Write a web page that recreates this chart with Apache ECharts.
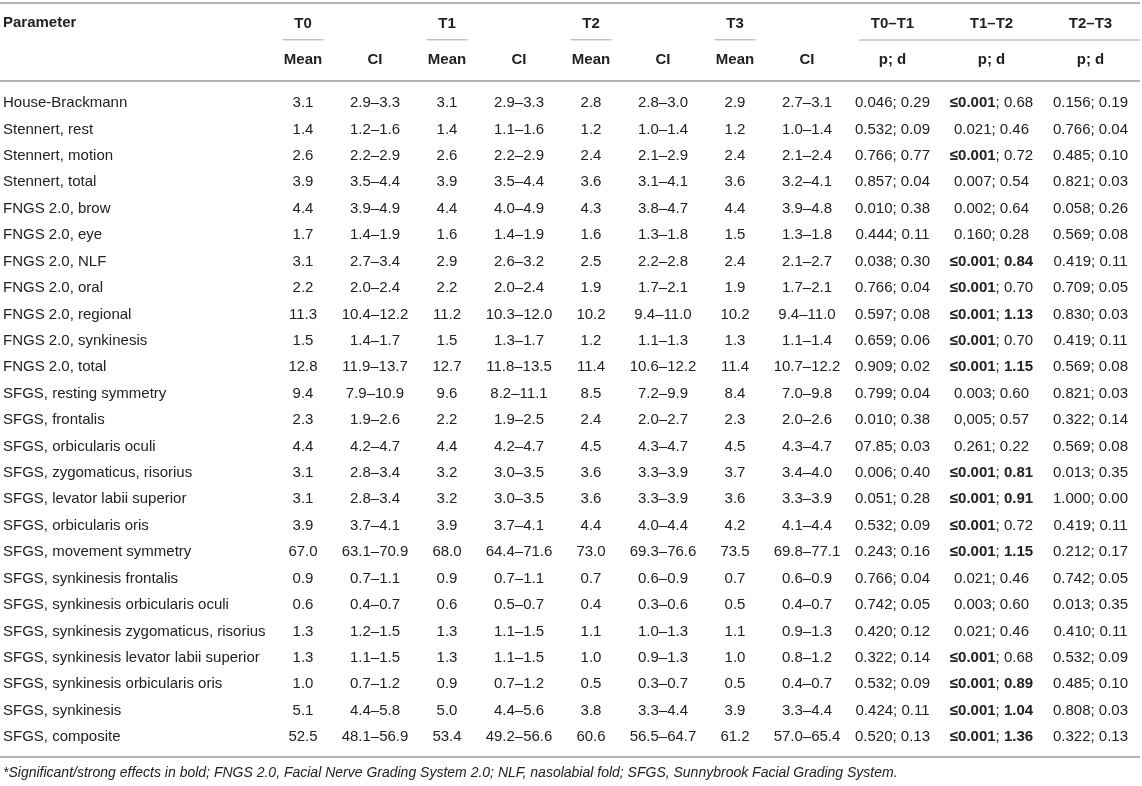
<!DOCTYPE html>
<html>
<head>
<meta charset="utf-8">
<script src="https://cdn.jsdelivr.net/npm/echarts@6/dist/echarts.min.js"></script>
<style>
    html, body { margin: 0; padding: 0; background: #fff; }
    #main { width: 1142px; height: 786px; }
</style>
</head>
<body>
<div id="main"></div>
<script>
// table content, one array per column
const params = [
    'House-Brackmann', 'Stennert, rest', 'Stennert, motion', 'Stennert, total',
    'FNGS 2.0, brow', 'FNGS 2.0, eye', 'FNGS 2.0, NLF', 'FNGS 2.0, oral',
    'FNGS 2.0, regional', 'FNGS 2.0, synkinesis', 'FNGS 2.0, total',
    'SFGS, resting symmetry', 'SFGS, frontalis', 'SFGS, orbicularis oculi',
    'SFGS, zygomaticus, risorius', 'SFGS, levator labii superior', 'SFGS, orbicularis oris',
    'SFGS, movement symmetry', 'SFGS, synkinesis frontalis', 'SFGS, synkinesis orbicularis oculi',
    'SFGS, synkinesis zygomaticus, risorius', 'SFGS, synkinesis levator labii superior',
    'SFGS, synkinesis orbicularis oris', 'SFGS, synkinesis', 'SFGS, composite'
];

const t0Mean = [3.1, 1.4, 2.6, 3.9, 4.4, 1.7, 3.1, 2.2, 11.3, 1.5, 12.8, 9.4, 2.3, 4.4, 3.1, 3.1, 3.9, 67.0, 0.9, 0.6, 1.3, 1.3, 1.0, 5.1, 52.5];
const t0CI = ['2.9–3.3', '1.2–1.6', '2.2–2.9', '3.5–4.4', '3.9–4.9', '1.4–1.9', '2.7–3.4', '2.0–2.4', '10.4–12.2', '1.4–1.7', '11.9–13.7', '7.9–10.9', '1.9–2.6', '4.2–4.7', '2.8–3.4', '2.8–3.4', '3.7–4.1', '63.1–70.9', '0.7–1.1', '0.4–0.7', '1.2–1.5', '1.1–1.5', '0.7–1.2', '4.4–5.8', '48.1–56.9'];
const t1Mean = [3.1, 1.4, 2.6, 3.9, 4.4, 1.6, 2.9, 2.2, 11.2, 1.5, 12.7, 9.6, 2.2, 4.4, 3.2, 3.2, 3.9, 68.0, 0.9, 0.6, 1.3, 1.3, 0.9, 5.0, 53.4];
const t1CI = ['2.9–3.3', '1.1–1.6', '2.2–2.9', '3.5–4.4', '4.0–4.9', '1.4–1.9', '2.6–3.2', '2.0–2.4', '10.3–12.0', '1.3–1.7', '11.8–13.5', '8.2–11.1', '1.9–2.5', '4.2–4.7', '3.0–3.5', '3.0–3.5', '3.7–4.1', '64.4–71.6', '0.7–1.1', '0.5–0.7', '1.1–1.5', '1.1–1.5', '0.7–1.2', '4.4–5.6', '49.2–56.6'];
const t2Mean = [2.8, 1.2, 2.4, 3.6, 4.3, 1.6, 2.5, 1.9, 10.2, 1.2, 11.4, 8.5, 2.4, 4.5, 3.6, 3.6, 4.4, 73.0, 0.7, 0.4, 1.1, 1.0, 0.5, 3.8, 60.6];
const t2CI = ['2.8–3.0', '1.0–1.4', '2.1–2.9', '3.1–4.1', '3.8–4.7', '1.3–1.8', '2.2–2.8', '1.7–2.1', '9.4–11.0', '1.1–1.3', '10.6–12.2', '7.2–9.9', '2.0–2.7', '4.3–4.7', '3.3–3.9', '3.3–3.9', '4.0–4.4', '69.3–76.6', '0.6–0.9', '0.3–0.6', '1.0–1.3', '0.9–1.3', '0.3–0.7', '3.3–4.4', '56.5–64.7'];
const t3Mean = [2.9, 1.2, 2.4, 3.6, 4.4, 1.5, 2.4, 1.9, 10.2, 1.3, 11.4, 8.4, 2.3, 4.5, 3.7, 3.6, 4.2, 73.5, 0.7, 0.5, 1.1, 1.0, 0.5, 3.9, 61.2];
const t3CI = ['2.7–3.1', '1.0–1.4', '2.1–2.4', '3.2–4.1', '3.9–4.8', '1.3–1.8', '2.1–2.7', '1.7–2.1', '9.4–11.0', '1.1–1.4', '10.7–12.2', '7.0–9.8', '2.0–2.6', '4.3–4.7', '3.4–4.0', '3.3–3.9', '4.1–4.4', '69.8–77.1', '0.6–0.9', '0.4–0.7', '0.9–1.3', '0.8–1.2', '0.4–0.7', '3.3–4.4', '57.0–65.4'];

// p; d  (**...** = bold)
const t01 = ['0.046; 0.29', '0.532; 0.09', '0.766; 0.77', '0.857; 0.04', '0.010; 0.38', '0.444; 0.11', '0.038; 0.30', '0.766; 0.04', '0.597; 0.08', '0.659; 0.06', '0.909; 0.02', '0.799; 0.04', '0.010; 0.38', '07.85; 0.03', '0.006; 0.40', '0.051; 0.28', '0.532; 0.09', '0.243; 0.16', '0.766; 0.04', '0.742; 0.05', '0.420; 0.12', '0.322; 0.14', '0.532; 0.09', '0.424; 0.11', '0.520; 0.13'];
const t12 = ['**≤0.001**; 0.68', '0.021; 0.46', '**≤0.001**; 0.72', '0.007; 0.54', '0.002; 0.64', '0.160; 0.28', '**≤0.001**; **0.84**', '**≤0.001**; 0.70', '**≤0.001**; **1.13**', '**≤0.001**; 0.70', '**≤0.001**; **1.15**', '0.003; 0.60', '0,005; 0.57', '0.261; 0.22', '**≤0.001**; **0.81**', '**≤0.001**; **0.91**', '**≤0.001**; 0.72', '**≤0.001**; **1.15**', '0.021; 0.46', '0.003; 0.60', '0.021; 0.46', '**≤0.001**; 0.68', '**≤0.001**; **0.89**', '**≤0.001**; **1.04**', '**≤0.001**; **1.36**'];
const t23 = ['0.156; 0.19', '0.766; 0.04', '0.485; 0.10', '0.821; 0.03', '0.058; 0.26', '0.569; 0.08', '0.419; 0.11', '0.709; 0.05', '0.830; 0.03', '0.419; 0.11', '0.569; 0.08', '0.821; 0.03', '0.322; 0.14', '0.569; 0.08', '0.013; 0.35', '1.000; 0.00', '0.419; 0.11', '0.212; 0.17', '0.742; 0.05', '0.013; 0.35', '0.410; 0.11', '0.532; 0.09', '0.485; 0.10', '0.808; 0.03', '0.322; 0.13'];

const timeCols = ['T0', 'T1', 'T2', 'T3'];
const subCols = ['Mean', 'CI', 'Mean', 'CI', 'Mean', 'CI', 'Mean', 'CI'];
const diffCols = ['T0–T1', 'T1–T2', 'T2–T3'];
const diffSub = ['p; d', 'p; d', 'p; d'];
const firstHead = 'Parameter';
const footnote = '*Significant/strong effects in bold; FNGS 2.0, Facial Nerve Grading System 2.0; NLF, nasolabial fold; SFGS, Sunnybrook Facial Grading System.';

const FONT = '"Liberation Sans", Arial, Helvetica, sans-serif';
const TEXT = '#222';
const RULE = '#b4b4b4';
const SIZE = 15;

const fmt = v => v.toFixed(1);
const toRich = s => s.replace(/\*\*(.+?)\*\*/g, '{b|$1}');

// cells of the left block (8 columns) and right block (3 columns)
const leftCols = [t0Mean.map(fmt), t0CI, t1Mean.map(fmt), t1CI, t2Mean.map(fmt), t2CI, t3Mean.map(fmt), t3CI];
const rightCols = [t01, t12, t23];

const cellsOf = cols => {
    const out = [];
    cols.forEach((col, c) => {
        col.forEach((txt, r) => out.push({ value: [c, r], txt: toRich(txt) }));
    });
    return out;
};
const leftCells = cellsOf(leftCols);
const rightCells = cellsOf(rightCols);

const cellRenderer = cells => (p, api) => {
    const pt = api.coord([api.value(0), api.value(1)]);
    return {
        type: 'text',
        x: pt[0],
        y: pt[1],
        style: {
            text: cells[p.dataIndex].txt,
            fill: TEXT,
            font: SIZE + 'px ' + FONT,
            align: 'center',
            verticalAlign: 'middle',
            rich: { b: { fontWeight: 'bold', fontSize: SIZE, fontFamily: FONT, fill: TEXT } }
        }
    };
};

const gridTop = 89.8;
const gridH = 660.5;

const topAxis = (grid, data, margin) => ({
    type: 'category',
    gridIndex: grid,
    position: 'top',
    data: data,
    axisLine: { show: false },
    axisTick: { show: false },
    splitLine: { show: false },
    axisLabel: {
        interval: 0,
        margin: margin,
        verticalAlign: 'middle',
        fontWeight: 'bold',
        fontSize: SIZE,
        fontFamily: FONT,
        color: TEXT
    }
});

const chart = echarts.init(document.getElementById('main'));

chart.setOption({
    animation: false,
    backgroundColor: '#fff',
    grid: [
        { left: 267, width: 576, top: gridTop, height: gridH },
        { left: 843, width: 297, top: gridTop, height: gridH }
    ],
    xAxis: [
        topAxis(0, subCols, 30),
        topAxis(0, timeCols.flatMap(t => [t, '']), 66),
        topAxis(1, diffSub, 30),
        topAxis(1, diffCols, 66)
    ],
    yAxis: [
        {
            type: 'category',
            gridIndex: 0,
            data: params,
            inverse: true,
            axisLine: { show: false },
            axisTick: { show: false },
            axisLabel: {
                interval: 0,
                align: 'left',
                margin: 264,
                fontSize: SIZE,
                fontFamily: FONT,
                color: TEXT
            }
        },
        {
            type: 'category',
            gridIndex: 1,
            data: params,
            inverse: true,
            show: false
        }
    ],
    graphic: [
        { type: 'line', shape: { x1: 0, y1: 3, x2: 1140, y2: 3 }, style: { stroke: RULE, lineWidth: 2 } },
        { type: 'line', shape: { x1: 0, y1: 81, x2: 1140, y2: 81 }, style: { stroke: RULE, lineWidth: 2 } },
        { type: 'line', shape: { x1: 0, y1: 757, x2: 1140, y2: 757 }, style: { stroke: RULE, lineWidth: 2 } },
        { type: 'line', shape: { x1: 859, y1: 40, x2: 1140, y2: 40 }, style: { stroke: '#a8a8a8', lineWidth: 1 } },
        {
            type: 'text', left: 3, top: 15,
            style: { text: firstHead, fill: TEXT, font: 'bold ' + SIZE + 'px ' + FONT }
        },
        {
            type: 'text', left: 3, top: 766,
            style: { text: footnote, fill: TEXT, font: 'italic 14px ' + FONT }
        }
    ],
    series: [
        {
            type: 'custom',
            xAxisIndex: 0,
            yAxisIndex: 0,
            clip: false,
            renderItem: cellRenderer(leftCells),
            data: leftCells.map(c => c.value)
        },
        {
            type: 'custom',
            xAxisIndex: 2,
            yAxisIndex: 1,
            clip: false,
            renderItem: cellRenderer(rightCells),
            data: rightCells.map(c => c.value)
        },
        {
            // short rules under T0..T3
            type: 'custom',
            xAxisIndex: 1,
            yAxisIndex: 0,
            clip: false,
            renderItem: (p, api) => {
                const x = api.coord([api.value(0), 0])[0];
                const y = p.coordSys.y - 50;
                return {
                    type: 'line',
                    shape: { x1: x - 20.5, y1: y, x2: x + 20.5, y2: y },
                    style: { stroke: '#a8a8a8', lineWidth: 1 }
                };
            },
            data: [[0, 0], [2, 0], [4, 0], [6, 0]]
        }
    ]
});
</script>
</body>
</html>
